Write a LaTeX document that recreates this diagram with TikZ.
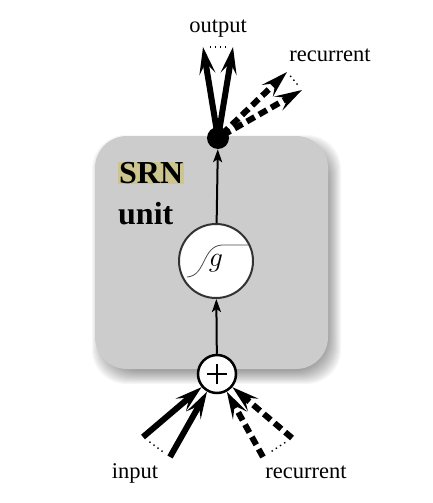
\documentclass[tikz,border=0pt]{standalone}
\usepackage{fix-cm}
\usepackage{fontspec}
\setmainfont{Liberation Serif}
\usetikzlibrary{arrows.meta}
\definecolor{boxgray}{RGB}{204,204,204}
\definecolor{khaki}{RGB}{204,197,143}
\tikzset{
  thickarrow/.style={line width=6pt, -{Stealth[length=27pt,width=16pt,inset=11pt]}},
  dashedarrow/.style={thickarrow, dash pattern=on 9pt off 5pt},
  thinarrow/.style={line width=2pt, -{Stealth[length=13pt,width=9pt,inset=3pt]}},
  dotrow/.style={line width=1.4pt, dash pattern=on 1.4pt off 3.6pt},
  lbl/.style={font=\fontsize{22.5}{27}\selectfont, inner sep=0pt},
  unitlbl/.style={font=\fontsize{32}{36}\selectfont\bfseries, inner sep=0pt},
}
\begin{document}
\begin{tikzpicture}[x=1pt, y=-1pt]
\useasboundingbox (0,0) rectangle (432,503);
% shadow
\foreach \i in {-6,...,8}
  \fill[black, opacity=0.03, rounded corners=34pt]
    ({100-\i},{143-\i}) rectangle ({333+\i},{376+\i});
% unit box
\fill[boxgray, rounded corners=32pt] (95,136) rectangle (328,369);
% labels inside box
\node[unitlbl, fill=khaki, text height=21.5pt, text depth=0pt, inner xsep=1pt, anchor=south west] (srn) at (118,184) {SRN};
\node[unitlbl, anchor=base west] (unit) at (118,224) {unit};
% nodes
\node[circle, fill=black, minimum size=22pt, inner sep=0pt] (dot) at (218,138) {};
\node[circle, draw=black!80, line width=2pt, fill=white, minimum size=74pt, inner sep=0pt] (g) at (216,261) {};
\draw[black!70, line width=0.8pt] (187,277) .. controls (206,276) and (202,246) .. (222,245) -- (249,245);
\node[font=\fontsize{28}{30}\selectfont, inner sep=0pt] (gl) at (216,263) {$g$};
\node[circle, draw=black, line width=2.5pt, fill=white, minimum size=38pt, inner sep=0pt] (plus) at (217,374) {};
\draw[line width=2.5pt] ([xshift=-10pt]plus.center) -- ([xshift=10pt]plus.center);
\draw[line width=2.5pt] ([yshift=-10pt]plus.center) -- ([yshift=10pt]plus.center);
% internal thin arrows
\draw[thinarrow] (plus) -- (g);
\draw[thinarrow] (g) -- (dot);
% free ends
\coordinate (o1) at (203,47);
\coordinate (o2) at (233,47);
\coordinate (r1) at (287,72);
\coordinate (r2) at (302,90);
\coordinate (i1) at (143,437);
\coordinate (i2) at (170,457);
\coordinate (b1) at (292,438);
\coordinate (b2) at (263,457);
% outgoing arrows
\draw[thickarrow, shorten <=-6pt] (dot) -- (o1);
\draw[thickarrow, shorten <=-6pt] (dot) -- (o2);
\draw[dashedarrow, shorten <=-6pt] (dot) -- (r1);
\draw[dashedarrow, shorten <=-6pt] (dot) -- (r2);
\draw[dotrow, shorten <=7pt, shorten >=7pt] (o1) -- (o2);
\draw[dotrow, shorten <=5pt, shorten >=5pt] (r1) -- (r2);
% incoming arrows
\draw[thickarrow] (i1) -- (plus);
\draw[thickarrow] (i2) -- (plus);
\draw[dashedarrow] (b1) -- (plus);
\draw[dashedarrow] (b2) -- (plus);
\draw[dotrow, shorten <=8pt, shorten >=8pt] (i1) -- (i2);
\draw[dotrow, shorten <=8pt, shorten >=8pt] (b1) -- (b2);
% labels
\node[lbl, anchor=base] (lout) at (218,33) {output};
\node[lbl, anchor=base] (lrec) at (330,62) {recurrent};
\node[lbl, anchor=base] (lin) at (135,478) {input};
\node[lbl, anchor=base] (lrec2) at (306,478) {recurrent};
\end{tikzpicture}
\end{document}
